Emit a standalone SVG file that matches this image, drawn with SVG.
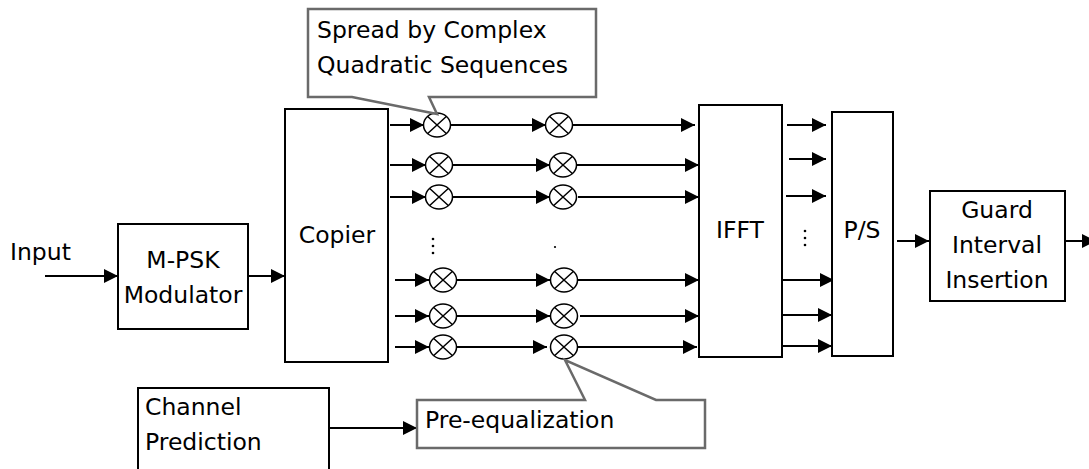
<svg xmlns="http://www.w3.org/2000/svg" width="1089" height="469" viewBox="0 0 1089 469">
<style>
.box{fill:#fff;stroke:#000;stroke-width:2}
.call{fill:#fff;stroke:#6a6a6a;stroke-width:2.5;stroke-linejoin:miter}
.ln{fill:none;stroke:#000;stroke-width:2;marker-end:url(#ah)}
.mul{fill:#fff;stroke:#000;stroke-width:1.5}
.t{font-family:"DejaVu Sans","Liberation Sans",sans-serif;font-size:23.5px;fill:#000}
.c{text-anchor:middle}
.dot{fill:#000}
</style>
<defs>
<marker id="ah" viewBox="0 0 14 14" refX="14" refY="7" markerWidth="14" markerHeight="14" markerUnits="userSpaceOnUse" orient="auto">
<path d="M0,0 L14,7 L0,14 Z" fill="#000"/>
</marker>
<g id="mx">
<ellipse cx="0" cy="0" rx="13.5" ry="12"/>
<path d="M-9.3,-8.5 L9.3,8.5 M-9.3,8.5 L9.3,-8.5" fill="none"/>
</g>
</defs>
<rect width="1089" height="469" fill="#fff"/>

<g id="connectors">
<line class="ln" x1="45" y1="276" x2="118" y2="276"/>
<line class="ln" x1="248" y1="276" x2="285" y2="276"/>
<line class="ln" x1="390" y1="125" x2="424" y2="125"/>
<line class="ln" x1="390" y1="165" x2="426" y2="165"/>
<line class="ln" x1="390" y1="197" x2="426" y2="197"/>
<line class="ln" x1="395" y1="280" x2="429" y2="280"/>
<line class="ln" x1="395" y1="316" x2="429" y2="316"/>
<line class="ln" x1="395" y1="347" x2="429" y2="347"/>
<line class="ln" x1="450" y1="125" x2="546" y2="125"/>
<line class="ln" x1="452" y1="165" x2="550" y2="165"/>
<line class="ln" x1="452" y1="197" x2="550" y2="197"/>
<line class="ln" x1="456" y1="280" x2="550" y2="280"/>
<line class="ln" x1="456" y1="316" x2="550" y2="316"/>
<line class="ln" x1="456" y1="347" x2="547" y2="347"/>
<line class="ln" x1="573" y1="125" x2="695" y2="125"/>
<line class="ln" x1="576" y1="165" x2="699" y2="165"/>
<line class="ln" x1="578" y1="197" x2="699" y2="197"/>
<line class="ln" x1="578" y1="280" x2="699" y2="280"/>
<line class="ln" x1="580" y1="316" x2="699" y2="316"/>
<line class="ln" x1="578" y1="347" x2="697" y2="347"/>
<line class="ln" x1="787" y1="125" x2="826" y2="125"/>
<line class="ln" x1="789" y1="159" x2="826" y2="159"/>
<line class="ln" x1="786" y1="196" x2="826" y2="196"/>
<line class="ln" x1="782" y1="280" x2="834" y2="280"/>
<line class="ln" x1="782" y1="315" x2="832" y2="315"/>
<line class="ln" x1="782" y1="346" x2="832" y2="346"/>
<line class="ln" x1="897" y1="241" x2="929" y2="241"/>
<line class="ln" x1="1065" y1="241" x2="1096" y2="241"/>
<line class="ln" x1="329" y1="428" x2="417" y2="428"/>
</g>

<g id="dots">
<circle class="dot" cx="433" cy="239" r="1.3"/>
<circle class="dot" cx="433" cy="246" r="1.3"/>
<circle class="dot" cx="433" cy="253" r="1.3"/>
<circle class="dot" cx="555" cy="247" r="1.1"/>
<circle class="dot" cx="805" cy="231" r="1.3"/>
<circle class="dot" cx="805" cy="238" r="1.3"/>
<circle class="dot" cx="805" cy="245" r="1.3"/>
</g>

<g id="multipliers" class="mul">
<use href="#mx" x="437" y="125"/>
<use href="#mx" x="439" y="165"/>
<use href="#mx" x="439" y="197"/>
<use href="#mx" x="443" y="280"/>
<use href="#mx" x="443" y="316"/>
<use href="#mx" x="443" y="347"/>
<use href="#mx" x="559" y="125"/>
<use href="#mx" x="563" y="165"/>
<use href="#mx" x="563" y="197"/>
<use href="#mx" x="564" y="280"/>
<use href="#mx" x="564" y="316"/>
<use href="#mx" x="564" y="347"/>
</g>

<g id="input"><text class="t" x="10" y="260">Input</text></g>

<g id="mpsk">
<rect class="box" x="118" y="224" width="130" height="105"/>
<text class="t c" x="183" y="268">M-PSK</text>
<text class="t c" x="183" y="303">Modulator</text>
</g>

<g id="copier">
<rect class="box" x="285" y="109" width="103" height="253"/>
<text class="t c" x="337" y="243">Copier</text>
</g>

<g id="ifft">
<rect class="box" x="699" y="105" width="83" height="252"/>
<text class="t c" x="740" y="238">IFFT</text>
</g>

<g id="ps">
<rect class="box" x="832" y="112" width="61" height="244"/>
<text class="t c" x="862" y="238">P/S</text>
</g>

<g id="guard">
<rect class="box" x="930" y="191" width="135" height="110"/>
<text class="t c" x="997" y="218">Guard</text>
<text class="t c" x="997" y="253">Interval</text>
<text class="t c" x="997" y="288">Insertion</text>
</g>

<g id="spread">
<path class="call" d="M308,9 H596 V97 H429 L437,114 L352,97 H308 Z"/>
<text class="t" x="317" y="38">Spread by Complex</text>
<text class="t" x="317" y="73">Quadratic Sequences</text>
</g>

<g id="preeq">
<path class="call" d="M417,400 H585 L565,360 L656,400 H705 V448 H417 Z"/>
<text class="t" x="425" y="428">Pre-equalization</text>
</g>

<g id="channel">
<rect class="box" x="138" y="388" width="191" height="100"/>
<text class="t" x="145" y="415">Channel</text>
<text class="t" x="145" y="450">Prediction</text>
</g>
</svg>
